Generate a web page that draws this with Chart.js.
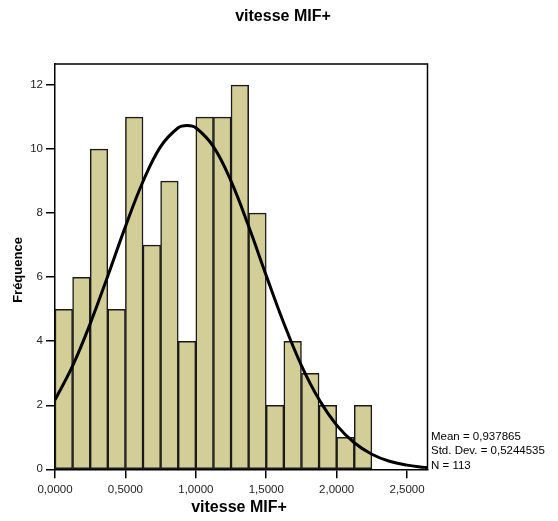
<!DOCTYPE html>
<html>
<head>
<meta charset="utf-8">
<script src="https://cdn.jsdelivr.net/npm/chart.js@4.4.0/dist/chart.umd.min.js"></script>
<style>
  html, body { margin: 0; padding: 0; background: #fff; }
  #wrap { width: 558px; height: 521px; }
</style>
</head>
<body>
<div id="wrap"><canvas id="histChart"></canvas></div>
<script>
// histogram bins (width 0.125 starting at 0) and their counts
const binStart = 0;
const binWidth = 0.125;
const frequencies = [5, 6, 10, 5, 11, 7, 9, 4, 11, 11, 12, 8, 2, 4, 3, 2, 1, 2];

// fitted normal curve
const curveX = [0, 0.125, 0.25, 0.375, 0.5, 0.625, 0.75, 0.875, 0.938, 1.0, 1.125, 1.25, 1.375,
                1.5, 1.625, 1.75, 1.875, 2.0, 2.125, 2.25, 2.375, 2.5, 2.625, 2.645];
const curveY = [2.17, 3.23, 4.55, 6.04, 7.58, 8.99, 10.08, 10.67, 10.74, 10.67, 10.08, 9.0, 7.59,
                6.05, 4.56, 3.24, 2.18, 1.38, 0.83, 0.47, 0.25, 0.13, 0.06, 0.05];

// axis ticks
const xTickValues = [0, 0.5, 1.0, 1.5, 2.0, 2.5];
const xTickLabels = ['0,0000', '0,5000', '1,0000', '1,5000', '2,0000', '2,5000'];
const yTickValues = [0, 2, 4, 6, 8, 10, 12];

const statsLines = ['Mean = 0,937865', 'Std. Dev. = 0,5244535', 'N = 113'];
const chartTitle = 'vitesse MIF+';
const xTitle = 'vitesse MIF+';
const yTitle = 'Fréquence';

const barPoints = frequencies.map((f, i) => ({ x: binStart + binWidth * (i + 0.5), y: f }));
const curvePoints = curveX.map((x, i) => ({ x: x, y: curveY[i] }));

const FONT = '"Liberation Sans", Arial, sans-serif';

// draws the frame, titles and the stats box
const decorations = {
  id: 'decorations',
  afterDraw(chart) {
    const ctx = chart.ctx;
    const a = chart.chartArea;
    ctx.save();
    ctx.strokeStyle = '#000';
    ctx.lineWidth = 1.5;
    ctx.beginPath();
    ctx.moveTo(a.left, a.top);
    ctx.lineTo(a.right, a.top);
    ctx.lineTo(a.right, a.bottom);
    ctx.stroke();

    ctx.fillStyle = '#000';
    ctx.textAlign = 'center';
    ctx.textBaseline = 'middle';
    ctx.font = 'bold 16px ' + FONT;
    ctx.fillText(chartTitle, 283, 17);
    ctx.fillText(xTitle, 239, 508);

    ctx.save();
    ctx.translate(18, 270);
    ctx.rotate(-Math.PI / 2);
    ctx.font = 'bold 13px ' + FONT;
    ctx.fillText(yTitle, 0, 0);
    ctx.restore();

    ctx.textAlign = 'left';
    ctx.font = '11.5px ' + FONT;
    statsLines.forEach((s, i) => ctx.fillText(s, a.right + 3.5, 436.5 + i * 14.5));
    ctx.restore();
  }
};

new Chart(document.getElementById('histChart'), {
  type: 'bar',
  data: {
    datasets: [{
      type: 'line',
      data: curvePoints,
      borderColor: '#000',
      borderWidth: 3,
      pointRadius: 0,
      tension: 0.4,
      fill: false,
      order: 0
    }, {
      type: 'bar',
      data: barPoints,
      backgroundColor: '#D3CE97',
      borderColor: '#1a1a1a',
      borderWidth: 1.5,
      borderSkipped: false,
      barPercentage: 1,
      categoryPercentage: 1,
      order: 1
    }]
  },
  options: {
    responsive: true,
    maintainAspectRatio: false,
    animation: false,
    layout: { padding: { top: 64, right: 130.5, left: 0, bottom: 0 } },
    plugins: {
      legend: { display: false },
      tooltip: { enabled: false },
      title: { display: false }
    },
    scales: {
      x: {
        type: 'linear',
        min: 0,
        max: 2.645,
        offset: false,
        afterBuildTicks: (scale) => { scale.ticks = xTickValues.map(v => ({ value: v })); },
        afterFit: (scale) => { scale.height = 51.7; },
        grid: { offset: false, drawOnChartArea: false, drawTicks: true, tickLength: 9, color: '#000', lineWidth: 1.5 },
        border: { display: true, color: '#000', width: 1.5 },
        ticks: {
          padding: 5,
          maxRotation: 0,
          autoSkip: false,
          color: '#222',
          font: { family: FONT, size: 11.5 },
          callback: (v, i) => xTickLabels[i]
        }
      },
      y: {
        min: 0,
        max: 12.66,
        afterBuildTicks: (scale) => { scale.ticks = yTickValues.map(v => ({ value: v })); },
        afterFit: (scale) => { scale.width = 55; },
        grid: { drawOnChartArea: false, drawTicks: true, tickLength: 9, color: '#000', lineWidth: 1.5 },
        border: { display: true, color: '#000', width: 1.5 },
        ticks: {
          padding: 3,
          color: '#222',
          font: { family: FONT, size: 11.5 }
        }
      }
    }
  },
  plugins: [decorations]
});
</script>
</body>
</html>
